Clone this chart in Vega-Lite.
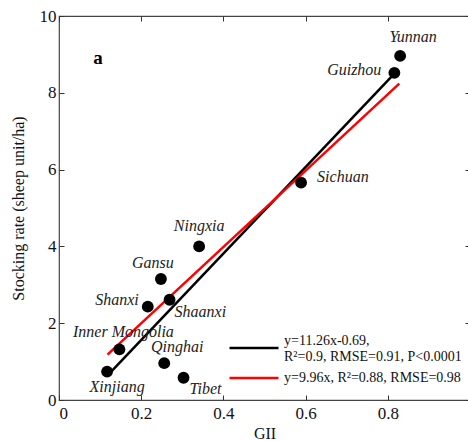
{
  "$schema": "https://vega.github.io/schema/vega-lite/v6.json",
  "width": 411,
  "height": 384,
  "autosize": "none",
  "padding": {"left": 59, "top": 16, "right": 0, "bottom": 41},
  "background": "white",
  "config": {
    "view": {"stroke": "#444", "strokeWidth": 1.2},
    "font": "Liberation Serif",
    "axis": {"grid": false, "domain": false, "tickSize": -5, "tickColor": "#333", "labelFont": "Liberation Serif", "labelFontSize": 17, "labelColor": "#111", "titleFont": "Liberation Serif", "titleFontWeight": "normal", "titleFontSize": 16, "titleColor": "#111"},
    "legend": {"orient": "none", "title": null, "symbolType": "stroke", "symbolSize": 2401, "symbolStrokeWidth": 2.5, "labelFont": "Liberation Serif", "labelFontSize": 14, "labelColor": "#111", "labelLimit": 0, "labelOffset": 4}
  },
  "datasets": {
    "pts": [
      {"province": "Yunnan", "GII": 0.830, "rate": 8.96},
      {"province": "Guizhou", "GII": 0.816, "rate": 8.52},
      {"province": "Sichuan", "GII": 0.589, "rate": 5.66},
      {"province": "Ningxia", "GII": 0.341, "rate": 4.00},
      {"province": "Gansu", "GII": 0.248, "rate": 3.15},
      {"province": "Shanxi", "GII": 0.216, "rate": 2.43},
      {"province": "Shaanxi", "GII": 0.269, "rate": 2.61},
      {"province": "Inner Mongolia", "GII": 0.147, "rate": 1.32},
      {"province": "Xinjiang", "GII": 0.117, "rate": 0.74},
      {"province": "Qinghai", "GII": 0.256, "rate": 0.96},
      {"province": "Tibet", "GII": 0.303, "rate": 0.58}
    ],
    "fits": [
      {"model": "y=11.26x-0.69,|R²=0.9, RMSE=0.91, P<0.0001", "GII": 0.12, "rate": 0.66},
      {"model": "y=11.26x-0.69,|R²=0.9, RMSE=0.91, P<0.0001", "GII": 0.816, "rate": 8.50},
      {"model": "y=9.96x, R²=0.88, RMSE=0.98", "GII": 0.118, "rate": 1.18},
      {"model": "y=9.96x, R²=0.88, RMSE=0.98", "GII": 0.828, "rate": 8.24}
    ]
  },
  "layer": [
    {
      "layer": [
        {
          "data": {"name": "fits"},
          "transform": [{"filter": "indexof(datum.model, '11.26') >= 0"}],
          "mark": {"type": "line", "strokeWidth": 2.5},
          "encoding": {
            "x": {"field": "GII", "type": "quantitative", "scale": {"domain": [0, 1], "nice": false}, "axis": {"values": [0, 0.2, 0.4, 0.6, 0.8], "format": "~g", "labelPadding": 10, "title": "GII", "titlePadding": 4}},
            "y": {"field": "rate", "type": "quantitative", "scale": {"domain": [0, 10], "nice": false}, "axis": {"values": [0, 2, 4, 6, 8, 10], "labelPadding": 8, "title": "Stocking rate (sheep unit/ha)", "titlePadding": 13}},
            "color": {"field": "model", "type": "nominal",
              "scale": {"range": ["#000000"]},
              "legend": {"legendX": 169, "legendY": 306, "labelBaseline": "bottom", "labelExpr": "split(datum.label, '|')"}}
          }
        },
        {
          "data": {"name": "fits"},
          "transform": [{"filter": "indexof(datum.model, '9.96') >= 0"}],
          "mark": {"type": "line", "strokeWidth": 2.5},
          "encoding": {
            "x": {"field": "GII", "type": "quantitative"},
            "y": {"field": "rate", "type": "quantitative"},
            "stroke": {"field": "model", "type": "nominal",
              "scale": {"range": ["#ff0000"]},
              "legend": {"legendX": 169, "legendY": 336, "labelBaseline": "middle"}}
          }
        },
        {
          "data": {"name": "pts"},
          "mark": {"type": "circle", "size": 140, "color": "#000", "opacity": 1},
          "encoding": {
            "x": {"field": "GII", "type": "quantitative"},
            "y": {"field": "rate", "type": "quantitative"}
          }
        },
        {"data": {"name": "pts"}, "transform": [{"filter": "datum.province == 'Yunnan'"}], "mark": {"type": "text", "font": "Liberation Serif", "fontStyle": "italic", "fontSize": 16, "color": "#222", "dx": 13, "dy": -19}, "encoding": {"x": {"field": "GII", "type": "quantitative"}, "y": {"field": "rate", "type": "quantitative"}, "text": {"field": "province"}}},
        {"data": {"name": "pts"}, "transform": [{"filter": "datum.province == 'Guizhou'"}], "mark": {"type": "text", "font": "Liberation Serif", "fontStyle": "italic", "fontSize": 16, "color": "#222", "align": "right", "dx": -13, "dy": -3}, "encoding": {"x": {"field": "GII", "type": "quantitative"}, "y": {"field": "rate", "type": "quantitative"}, "text": {"field": "province"}}},
        {"data": {"name": "pts"}, "transform": [{"filter": "datum.province == 'Sichuan'"}], "mark": {"type": "text", "font": "Liberation Serif", "fontStyle": "italic", "fontSize": 16, "color": "#222", "align": "left", "dx": 16, "dy": -6}, "encoding": {"x": {"field": "GII", "type": "quantitative"}, "y": {"field": "rate", "type": "quantitative"}, "text": {"field": "province"}}},
        {"data": {"name": "pts"}, "transform": [{"filter": "datum.province == 'Ningxia'"}], "mark": {"type": "text", "font": "Liberation Serif", "fontStyle": "italic", "fontSize": 16, "color": "#222", "dx": 0, "dy": -20}, "encoding": {"x": {"field": "GII", "type": "quantitative"}, "y": {"field": "rate", "type": "quantitative"}, "text": {"field": "province"}}},
        {"data": {"name": "pts"}, "transform": [{"filter": "datum.province == 'Gansu'"}], "mark": {"type": "text", "font": "Liberation Serif", "fontStyle": "italic", "fontSize": 16, "color": "#222", "dx": -8, "dy": -16}, "encoding": {"x": {"field": "GII", "type": "quantitative"}, "y": {"field": "rate", "type": "quantitative"}, "text": {"field": "province"}}},
        {"data": {"name": "pts"}, "transform": [{"filter": "datum.province == 'Shanxi'"}], "mark": {"type": "text", "font": "Liberation Serif", "fontStyle": "italic", "fontSize": 16, "color": "#222", "align": "right", "dx": -9, "dy": -7}, "encoding": {"x": {"field": "GII", "type": "quantitative"}, "y": {"field": "rate", "type": "quantitative"}, "text": {"field": "province"}}},
        {"data": {"name": "pts"}, "transform": [{"filter": "datum.province == 'Shaanxi'"}], "mark": {"type": "text", "font": "Liberation Serif", "fontStyle": "italic", "fontSize": 16, "color": "#222", "align": "left", "dx": 5, "dy": 12}, "encoding": {"x": {"field": "GII", "type": "quantitative"}, "y": {"field": "rate", "type": "quantitative"}, "text": {"field": "province"}}},
        {"data": {"name": "pts"}, "transform": [{"filter": "datum.province == 'Inner Mongolia'"}], "mark": {"type": "text", "font": "Liberation Serif", "fontStyle": "italic", "fontSize": 16, "color": "#222", "dx": 4, "dy": -17}, "encoding": {"x": {"field": "GII", "type": "quantitative"}, "y": {"field": "rate", "type": "quantitative"}, "text": {"field": "province"}}},
        {"data": {"name": "pts"}, "transform": [{"filter": "datum.province == 'Xinjiang'"}], "mark": {"type": "text", "font": "Liberation Serif", "fontStyle": "italic", "fontSize": 16, "color": "#222", "dx": 10, "dy": 15}, "encoding": {"x": {"field": "GII", "type": "quantitative"}, "y": {"field": "rate", "type": "quantitative"}, "text": {"field": "province"}}},
        {"data": {"name": "pts"}, "transform": [{"filter": "datum.province == 'Qinghai'"}], "mark": {"type": "text", "font": "Liberation Serif", "fontStyle": "italic", "fontSize": 16, "color": "#222", "dx": 13, "dy": -16}, "encoding": {"x": {"field": "GII", "type": "quantitative"}, "y": {"field": "rate", "type": "quantitative"}, "text": {"field": "province"}}},
        {"data": {"name": "pts"}, "transform": [{"filter": "datum.province == 'Tibet'"}], "mark": {"type": "text", "font": "Liberation Serif", "fontStyle": "italic", "fontSize": 16, "color": "#222", "dx": 22, "dy": 11}, "encoding": {"x": {"field": "GII", "type": "quantitative"}, "y": {"field": "rate", "type": "quantitative"}, "text": {"field": "province"}}},
        {
          "data": {"values": [{"GII": 0.095, "rate": 8.9, "panel": "a"}]},
          "mark": {"type": "text", "font": "Liberation Serif", "fontWeight": "bold", "fontSize": 19, "color": "#000"},
          "encoding": {"x": {"field": "GII", "type": "quantitative"}, "y": {"field": "rate", "type": "quantitative"}, "text": {"field": "panel"}}
        }
      ],
      "resolve": {"scale": {"color": "independent", "stroke": "independent"}}
    },
    {
      "data": {"name": "fits"},
      "mark": {"type": "rule", "strokeWidth": 1},
      "encoding": {
        "x": {"field": "GII", "type": "quantitative", "aggregate": "min", "axis": {"orient": "top", "values": [0, 0.2, 0.4, 0.6, 0.8], "labels": false, "title": null}},
        "y": {"field": "rate", "type": "quantitative", "aggregate": "min", "axis": {"orient": "right", "values": [0, 2, 4, 6, 8, 10], "labels": false, "title": null}},
        "opacity": {"value": 0}
      }
    }
  ],
  "resolve": {"axis": {"x": "independent", "y": "independent"}}
}
